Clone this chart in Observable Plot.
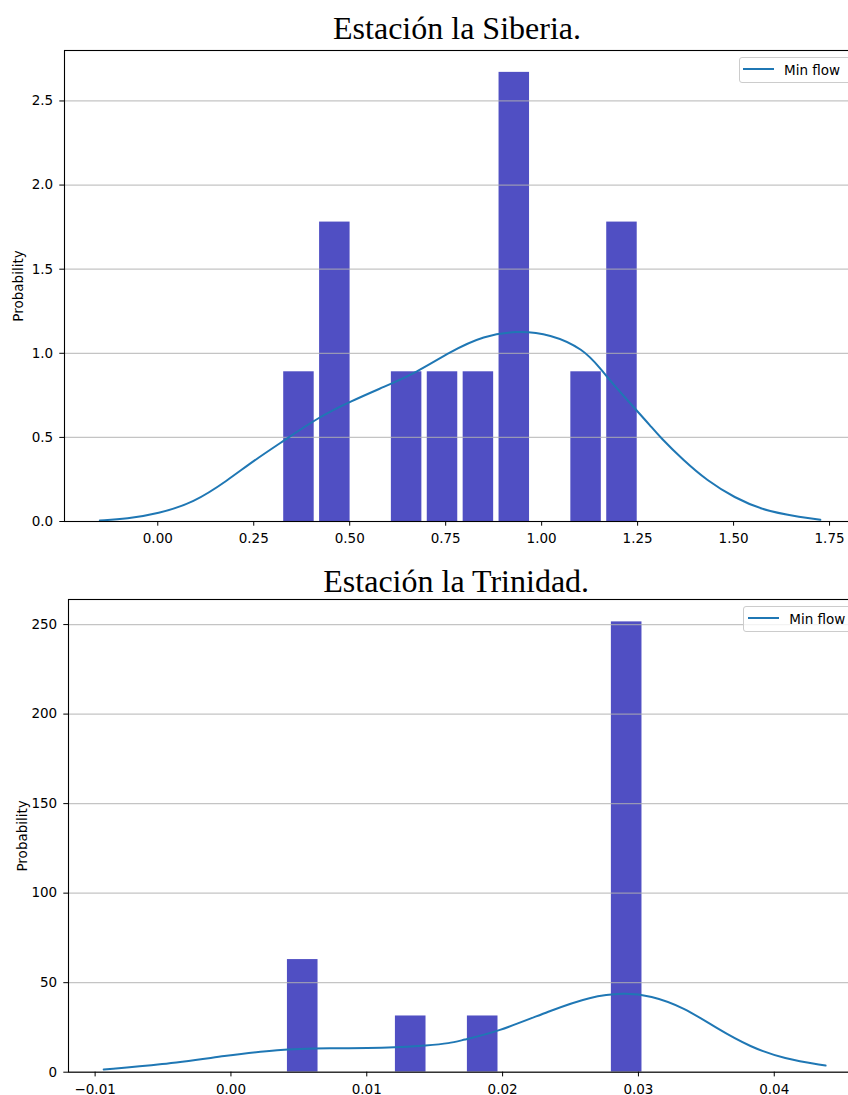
<!DOCTYPE html>
<html><head><meta charset="utf-8">
<script src="https://cdn.jsdelivr.net/npm/d3@7"></script>
<script src="https://cdn.jsdelivr.net/npm/@observablehq/plot@0.6"></script>
<style>
html,body{margin:0;padding:0;background:#fff;width:848px;height:1095px;overflow:hidden;position:relative;}
.chart{position:absolute;left:0;width:900px;}
.chart svg{max-width:none !important;}
.legend{position:absolute;box-sizing:border-box;border:1px solid #cccccc;border-radius:3px;background:rgba(255,255,255,0.8);font-family:"DejaVu Sans";font-size:13.5px;color:#000;height:26px;width:130px;}
.legend .ln{position:absolute;height:2px;background:#1f77b4;}
.legend .tx{position:absolute;top:0;line-height:24px;white-space:nowrap;}
</style></head><body>
<div id="c1" class="chart" style="top:0"></div>
<div id="c2" class="chart" style="top:560px"></div>
<div class="legend" style="left:738.5px;top:56.5px;"><div class="ln" style="left:3.8px;top:10.5px;width:31px;"></div><div class="tx" style="left:44.5px;">Min flow</div></div>
<div class="legend" style="left:743.3px;top:606px;"><div class="ln" style="left:3.4px;top:10.3px;width:31.3px;"></div><div class="tx" style="left:45px;">Min flow</div></div>
<script>
// ---------- Estación la Siberia ----------
const sibTitle = "Estación la Siberia.";
const sibBinEdges = [0.321, 0.4145, 0.508, 0.6015, 0.695, 0.7885, 0.882, 0.9755, 1.069, 1.1625, 1.256];
const sibHeights = [0.89, 1.78, 0, 0.89, 0.89, 0.89, 2.67, 0, 0.89, 1.78];
const sibKdeX = [-0.151, -0.08, 0.0, 0.094, 0.181, 0.25, 0.328, 0.419, 0.502, 0.589, 0.675, 0.762, 0.849, 0.936, 1.023, 1.109, 1.153, 1.196, 1.248, 1.283, 1.309, 1.370, 1.431, 1.50, 1.587, 1.726];
const sibKdeY = [0.006, 0.016, 0.046, 0.112, 0.243, 0.362, 0.48, 0.62, 0.714, 0.80, 0.887, 1.01, 1.105, 1.134, 1.115, 1.025, 0.91, 0.79, 0.659, 0.57, 0.50, 0.362, 0.243, 0.144, 0.055, 0.01];
const sibXTicks = [0, 0.25, 0.5, 0.75, 1.0, 1.25, 1.5, 1.75];
const sibYTicks = [0, 0.5, 1.0, 1.5, 2.0, 2.5];

// ---------- Estación la Trinidad ----------
const triTitle = "Estación la Trinidad.";
const triBinEdges = [0.00396, 0.00661, 0.00926, 0.01191, 0.01456, 0.01721, 0.01986, 0.02251, 0.02516, 0.02781, 0.03046];
const triHeights = [62.9, 0, 0, 31.4, 0, 31.4, 0, 0, 0, 251.5];
const triKdeX = [-0.00937, -0.00519, -0.00028, 0.0034, 0.00708, 0.01199, 0.01445, 0.01616, 0.0169, 0.0196, 0.02353, 0.02647, 0.02893, 0.03089, 0.03334, 0.0358, 0.03825, 0.04071, 0.04378];
const triKdeY = [1.5, 4.1, 9.3, 12.7, 13.4, 13.6, 14.9, 16.2, 17.7, 22.4, 34.5, 42.3, 44.4, 42.9, 36.3, 24.3, 14.0, 7.5, 3.7];
const triXTicks = [-0.01, 0, 0.01, 0.02, 0.03, 0.04];
const triYTicks = [0, 50, 100, 150, 200, 250];

const yLabel = "Probability";
const FONT = "DejaVu Sans";
const FS = 13.5;

function bars(edges, heights) {
  return heights.map((h, i) => ({x1: edges[i], x2: edges[i + 1], h})).filter(d => d.h > 0);
}
function kde(xs, ys) { return xs.map((x, i) => ({x, y: ys[i]})); }

function chart(o) {
  return Plot.plot({
    width: 900, height: o.height,
    marginLeft: o.ml, marginRight: o.mr, marginTop: o.mt, marginBottom: o.mb,
    style: {fontFamily: FONT, fontSize: FS + "px", color: "#000", background: "transparent", overflow: "visible", maxWidth: "none"},
    x: {domain: o.xdom},
    y: {domain: o.ydom},
    marks: [
      Plot.rectY(o.bars, {x1: "x1", x2: "x2", y: "h", fill: "#0504aa", fillOpacity: 0.7, insetLeft: 2.7, insetRight: 2.7}),
      Plot.gridY({ticks: o.yticks, stroke: "#b0b0b0", strokeOpacity: 0.75, strokeWidth: 1.2}),
      Plot.line(o.kde, {x: "x", y: "y", stroke: "#1f77b4", strokeWidth: 2, curve: "basis"}),
      Plot.frame({stroke: "#000", strokeWidth: 1.1}),
      Plot.axisX({ticks: o.xticks, tickFormat: d3.format(".2f"), tickSize: 4.7, tickPadding: 7.5, label: null, fontSize: FS}),
      Plot.axisY({ticks: o.yticks, tickFormat: o.yfmt, tickSize: 4.7, tickPadding: 6.6, label: null, fontSize: FS}),
      Plot.text([o.title], {frameAnchor: "top", dx: o.tdx, dy: o.tdy, lineAnchor: "bottom", textAnchor: "middle", fontFamily: "Liberation Serif", fontSize: 32, fill: "#000"}),
      Plot.text([yLabel], {frameAnchor: "left", dx: -45.5, rotate: -90, textAnchor: "middle", lineAnchor: "middle", fontSize: FS, fill: "#000"})
    ]
  });
}

document.getElementById("c1").appendChild(chart({
  height: 560, ml: 64, mr: 46, mt: 50, mb: 39,
  xdom: [-0.243, 1.815], ydom: [0, 2.8],
  bars: bars(sibBinEdges, sibHeights), kde: kde(sibKdeX, sibKdeY),
  xticks: sibXTicks, yticks: sibYTicks, yfmt: d3.format(".1f"),
  title: sibTitle, tdx: -2.5, tdy: -12
}));
document.getElementById("c2").appendChild(chart({
  height: 535, ml: 68, mr: 40, mt: 39, mb: 23.3,
  xdom: [-0.01196, 0.04635], ydom: [0, 264],
  bars: bars(triBinEdges, triHeights), kde: kde(triKdeX, triKdeY),
  xticks: triXTicks, yticks: triYTicks, yfmt: d3.format("d"),
  title: triTitle, tdx: -8.3, tdy: -8
}));
</script>
</body></html>
